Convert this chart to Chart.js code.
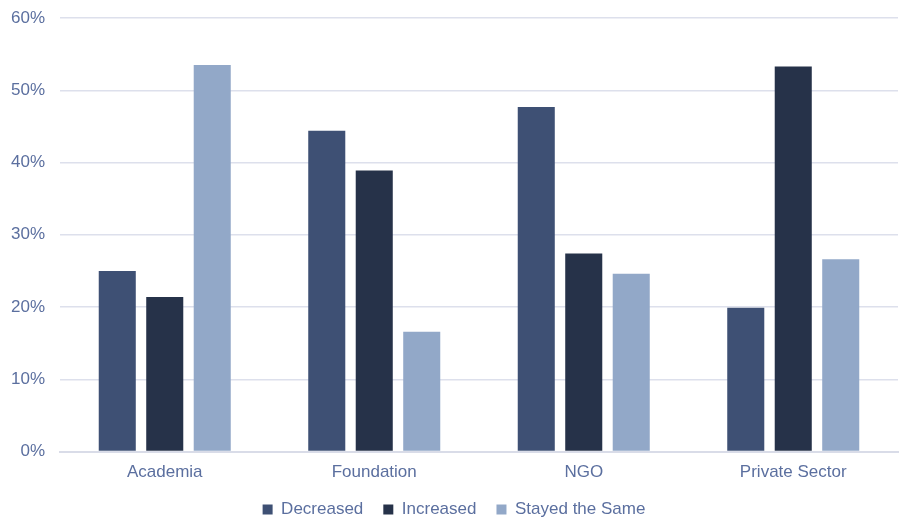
<!DOCTYPE html>
<html>
<head>
<script src="https://cdn.jsdelivr.net/npm/chart.js"></script>
<title>Change by sector</title>
<style>
  html, body { margin: 0; padding: 0; background: #fff; }
  #wrap { width: 899px; height: 517px; }
</style>
</head>
<body>
<div id="wrap"><canvas id="myChart"></canvas></div>
<script>
const categories = ['Academia', 'Foundation', 'NGO', 'Private Sector'];
const decreased = [25.0, 44.4, 47.7, 19.9];
const increased = [21.4, 38.9, 27.4, 53.3];
const stayedSame = [53.5, 16.6, 24.6, 26.6];
const yTicks = [0, 10, 20, 30, 40, 50, 60];

const textColor = '#5b6f9f';
const font = 'Liberation Sans, Arial, sans-serif';

// keep the wide gaps between legend items but a short legend box
const legendHeight = {
  id: 'legendHeight',
  afterInit(chart) {
    const lg = chart.legend;
    if (!lg) return;
    const fit = lg.fit;
    const draw = lg.draw;
    lg.fit = function () {
      fit.call(this);
      this.height = 31;
    };
    lg.draw = function () {
      const t = this.top;
      this.top = t - 5;
      draw.call(this);
      this.top = t;
    };
  }
};

const ctx = document.getElementById('myChart');
new Chart(ctx, {
  type: 'bar',
  data: {
    labels: categories,
    datasets: [
      { label: 'Decreased', data: decreased, backgroundColor: '#3e5074' },
      { label: 'Increased', data: increased, backgroundColor: '#263249' },
      { label: 'Stayed the Same', data: stayedSame, backgroundColor: '#92a8c8' }
    ]
  },
  options: {
    responsive: true,
    maintainAspectRatio: false,
    animation: false,
    layout: { padding: { left: 10, right: 1, top: 18, bottom: 0 } },
    datasets: { bar: { categoryPercentage: 0.68, barPercentage: 0.78 } },
    scales: {
      x: {
        grid: { display: false },
        border: { color: '#d9dce8', width: 2 },
        ticks: { color: textColor, font: { family: font, size: 17 }, padding: 3 }
      },
      y: {
        min: 0,
        max: 60,
        afterBuildTicks: axis => { axis.ticks = yTicks.map(v => ({ value: v })); },
        afterFit: axis => {
          axis.width = 50;
          axis.paddingTop = 0;
          axis.paddingBottom = 0;
        },
        grid: { color: '#dde0ec', lineWidth: 1.5, drawTicks: false },
        border: { display: false },
        ticks: {
          color: textColor,
          font: { family: font, size: 17 },
          padding: 15,
          callback: v => v + '%'
        }
      }
    },
    plugins: {
      legend: {
        position: 'bottom',
        labels: {
          color: textColor,
          font: { family: font, size: 17 },
          boxWidth: 10,
          boxHeight: 10,
          padding: 20
        }
      },
      tooltip: { enabled: false }
    }
  },
  plugins: [legendHeight]
});
</script>
</body>
</html>
